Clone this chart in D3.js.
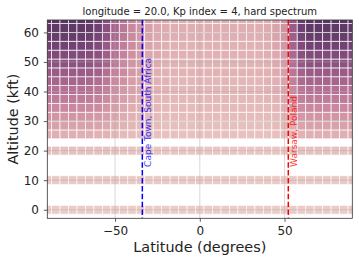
<!DOCTYPE html>
<html>
<head>
<meta charset="utf-8">
<script src="https://cdn.jsdelivr.net/npm/d3@7"></script>
<style>
  body { margin: 0; background: #fff; }
  svg { font-family: "DejaVu Sans", sans-serif; }
</style>
</head>
<body>
<div id="chart"></div>
<script>
var width = 359;
var height = 262;

var chartTitle = "longitude = 20.0, Kp index = 4, hard spectrum";
var latitudes = [-90,-85,-80,-75,-70,-65,-60,-55,-50,-45,-40,-35,-30,-25,-20,-15,-10,-5,0,5,10,15,20,25,30,35,40,45,50,55,60,65,70,75,80,85,90];
var altitudes = [0,10,20,25.5,28.5,31.5,34.5,37.5,40.5,43.5,46.5,49.5,52.5,55.5,58.5,61.5,64.5];
// dose index per altitude row (bottom to top), one value per latitude
var doseRows = [
  [2,2,2,2,2, 2,2,2,2,2,2,2,2,2,2, 2,2,2,2,2,2,2,2,2,2,2, 2,2,2,2,2, 2,2,2,2,2,2],
  [4,4,4,4,4, 4,4,4,4,3,3,3,3,3,3, 3,3,3,3,3,3,3,3,3,3,3, 3,3,3,4,4, 4,4,4,4,4,4],
  [7,7,7,7,7, 7,7,7,6,6,6,5,5,5,5, 5,5,5,5,5,5,5,5,5,5,5, 5,5,5,6,7, 7,7,7,7,7,7],
  [15,15,15,15,15, 15,14,13,11,10,9,8,8,7,7, 7,7,7,7,7,7,7,7,7,7,7, 7,8,9,12,14, 15,15,15,15,15,15],
  [21,21,21,21,21, 21,20,18,15,13,12,10,9,9,8, 8,8,8,8,8,8,8,8,8,8,8, 8,9,11,16,20, 21,21,21,21,21,21],
  [27,27,27,27,27, 26,25,23,19,16,14,12,11,10,9, 9,9,9,9,9,9,9,9,9,9,9, 9,10,13,21,26, 27,27,27,27,27,27],
  [33,33,33,33,33, 32,31,27,23,19,16,14,12,11,10, 10,10,10,10,10,10,10,10,10,10,10, 10,12,15,25,31, 33,33,33,33,33,33],
  [39,39,39,39,39, 38,36,32,26,22,19,16,14,12,12, 11,11,11,11,11,11,11,11,11,11,11, 12,13,17,29,37, 39,39,39,39,39,39],
  [45,45,45,45,45, 44,42,37,30,25,21,18,15,14,13, 12,12,12,12,12,12,12,12,12,12,12, 13,15,19,33,42, 45,45,45,45,45,45],
  [51,51,51,51,51, 50,47,41,33,28,23,19,16,14,13, 12,12,12,12,12,12,12,12,12,12,12, 13,15,20,37,48, 51,51,51,51,51,51],
  [57,57,57,57,57, 56,53,46,37,31,25,21,17,15,14, 13,13,13,13,13,13,13,13,13,13,13, 14,17,22,42,53, 57,57,57,57,57,57],
  [63,63,63,63,63, 62,58,51,41,33,27,22,18,16,14, 13,13,13,13,13,13,13,13,13,13,13, 14,17,23,46,59, 63,63,63,63,63,63],
  [68,68,68,68,68, 66,63,55,44,36,29,24,19,17,15, 14,14,14,14,14,14,14,14,14,14,14, 15,18,25,49,64, 68,68,68,68,68,68],
  [73,73,73,73,73, 71,67,58,46,38,31,25,20,17,15, 14,14,14,14,14,14,14,14,14,14,14, 15,19,26,52,68, 73,73,73,73,73,73],
  [77,77,77,77,77, 75,71,62,49,40,32,26,21,18,16, 15,15,15,15,15,15,15,15,15,15,15, 16,20,27,55,72, 77,77,77,77,77,77],
  [80,80,80,80,80, 78,74,64,51,41,33,27,22,18,16, 15,15,15,15,15,15,15,15,15,15,15, 16,20,28,57,75, 80,80,80,80,80,80],
  [82,82,82,82,82, 80,75,65,52,42,34,27,22,18,16, 15,15,15,15,15,15,15,15,15,15,15, 16,20,28,59,77, 82,82,82,82,82,82]
];
var xTicks = [-50, 0, 50];
var yTicks = [0, 10, 20, 30, 40, 50, 60];
var cityNames = ["Cape Town, South Africa", "Warsaw, Poland"];
var cityLats = [-33.92, 52.23];

// seaborn default cubehelix palette (start 0, rot .4, hue .8)
function cubehelix(x) {
  var a = 0.8 * x * (1 - x) / 2;
  var phi = 2 * Math.PI * (0.4 * x);
  var c = Math.cos(phi), s = Math.sin(phi);
  var r = x + a * (-0.14861 * c + 1.78277 * s);
  var g = x + a * (-0.29227 * c - 0.90649 * s);
  var b = x + a * (1.97294 * c);
  var cl = function(v) { return Math.max(0, Math.min(1, v)) * 255; };
  return d3.rgb(cl(r), cl(g), cl(b)).formatHex();
}
var cmapPos = d3.scaleLinear().domain([0, 100]).range([0.85, 0.15]);

var margin = { top: 20, right: 6.7, bottom: 43.7, left: 47.3 };
var innerW = width - margin.left - margin.right;
var innerH = height - margin.top - margin.bottom;

var svg = d3.select("#chart").append("svg")
  .attr("width", width)
  .attr("height", height);

var xScale = d3.scaleLinear().domain([-90, 90]).range([0, innerW]);
var yScale = d3.scaleLinear().domain([-2.9, 64.2]).range([innerH, 0]);

svg.append("defs").append("clipPath").attr("id", "plotclip")
  .append("rect").attr("width", innerW).attr("height", innerH);

var g = svg.append("g").attr("transform", "translate(" + margin.left + "," + margin.top + ")");

// cells
var cells = [];
altitudes.forEach(function(alt, i) {
  latitudes.forEach(function(lat, j) {
    cells.push({ lat: lat, alt: alt, v: doseRows[i][j] });
  });
});

g.append("g").attr("clip-path", "url(#plotclip)")
  .selectAll("rect")
  .data(cells)
  .enter()
  .append("rect")
    .attr("x", function(d) { return xScale(d.lat - 2.5); })
    .attr("y", function(d) { return yScale(d.alt + 1.5); })
    .attr("width", function(d) { return xScale(d.lat + 2.5) - xScale(d.lat - 2.5); })
    .attr("height", function(d) { return yScale(d.alt - 1.5) - yScale(d.alt + 1.5); })
    .attr("fill", function(d) { return cubehelix(cmapPos(d.v)); })
    .attr("stroke", "#fff")
    .attr("stroke-width", 0.8)
    .attr("stroke-opacity", 0.85);

// grid
var grid = g.append("g").attr("stroke", "#b0b0b0").attr("stroke-width", 0.8).attr("opacity", 0.6);
grid.selectAll(".gx").data(xTicks).enter().append("line")
  .attr("x1", function(d) { return xScale(d); }).attr("x2", function(d) { return xScale(d); })
  .attr("y1", 0).attr("y2", innerH);
grid.selectAll(".gy").data(yTicks).enter().append("line")
  .attr("y1", function(d) { return yScale(d); }).attr("y2", function(d) { return yScale(d); })
  .attr("x1", 0).attr("x2", innerW);

// city lines
var cityColors = ["#0000ff", "#ff0000"];
cityLats.forEach(function(lat, i) {
  var cx = xScale(lat);
  g.append("line")
    .attr("x1", cx).attr("x2", cx).attr("y1", 0).attr("y2", innerH)
    .attr("stroke", cityColors[i]).attr("stroke-width", 1.5)
    .attr("stroke-dasharray", "5.5,2.4");
  g.append("text")
    .attr("transform", "translate(" + (cx + 9) + "," + yScale(14.5) + ") rotate(-90)")
    .attr("font-size", "9px")
    .attr("fill", cityColors[i])
    .attr("fill-opacity", 0.8)
    .text(cityNames[i]);
});

// axes
var xAxis = g.append("g").attr("transform", "translate(0," + innerH + ")")
  .call(d3.axisBottom(xScale).tickValues(xTicks).tickSize(3.5).tickPadding(5));
var yAxis = g.append("g")
  .call(d3.axisLeft(yScale).tickValues(yTicks).tickSize(3.5).tickPadding(4.8));
[xAxis, yAxis].forEach(function(a) {
  a.select(".domain").remove();
  a.selectAll("text").attr("font-size", "12px").attr("font-family", "DejaVu Sans, sans-serif").attr("fill", "#222");
  a.selectAll("line").attr("stroke", "#333").attr("stroke-width", 0.8);
});

g.append("rect")
  .attr("width", innerW).attr("height", innerH)
  .attr("fill", "none").attr("stroke", "#333").attr("stroke-width", 0.8);

svg.append("text")
  .attr("x", margin.left + innerW / 2).attr("y", 14.5)
  .attr("text-anchor", "middle").attr("font-size", "10px").attr("fill", "#222")
  .text(chartTitle);

svg.append("text")
  .attr("x", margin.left + innerW / 2).attr("y", 251.5)
  .attr("text-anchor", "middle").attr("font-size", "14.4px").attr("fill", "#222")
  .text("Latitude (degrees)");

svg.append("text")
  .attr("transform", "translate(17.5," + (margin.top + innerH / 2) + ") rotate(-90)")
  .attr("text-anchor", "middle").attr("font-size", "14.4px").attr("fill", "#222")
  .text("Altitude (kft)");
</script>
</body>
</html>
